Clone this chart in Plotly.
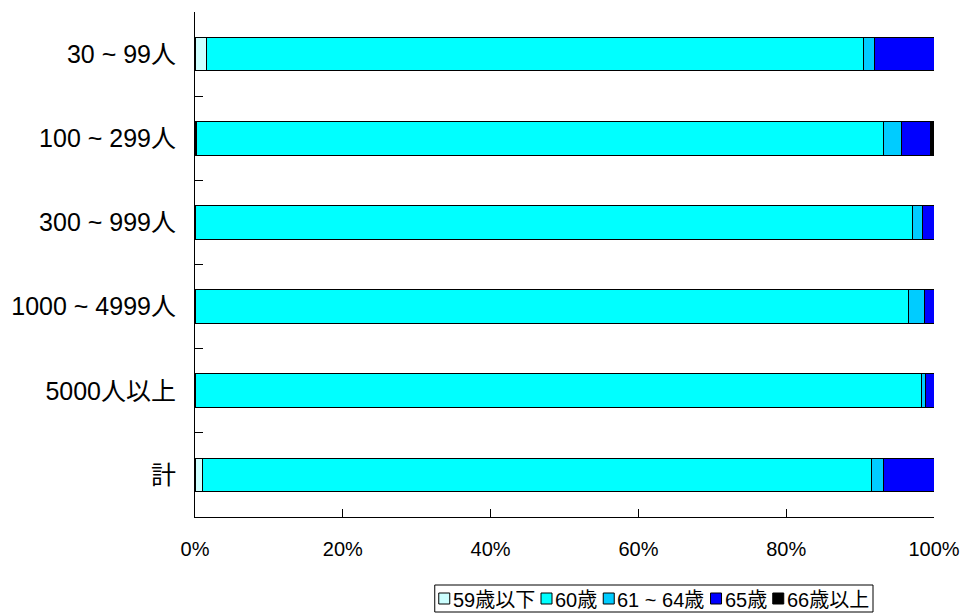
import plotly.graph_objects as go

# 企業規模別・定年年齢の分布（構成比 %）
categories = ["30 ~ 99人", "100 ~ 299人", "300 ~ 999人", "1000 ~ 4999人", "5000人以上", "計"]

series_names = ["59歳以下", "60歳", "61 ~ 64歳", "65歳", "66歳以上"]
age_59_under = [1.6, 0.2, 0.0, 0.0, 0.0, 1.0]
age_60 = [88.9, 93.0, 97.1, 96.5, 98.3, 90.5]
age_61_64 = [1.4, 2.4, 1.4, 2.2, 0.6, 1.6]
age_65 = [8.1, 3.9, 1.5, 1.3, 1.1, 6.9]
age_66_over = [0.0, 0.5, 0.0, 0.0, 0.0, 0.0]

series_values = [age_59_under, age_60, age_61_64, age_65, age_66_over]
series_colors = ["#CCFFFF", "#00FFFF", "#00CCFF", "#0000FF", "#000000"]

x_tick_values = [0, 20, 40, 60, 80, 100]
x_tick_labels = ["0%", "20%", "40%", "60%", "80%", "100%"]

FONT = "Liberation Sans, Arial, Noto Sans CJK JP, sans-serif"
FIG_W, FIG_H = 965, 614
M_L, M_R, M_T, M_B = 195, 31, 12, 97
PLOT_W = FIG_W - M_L - M_R
PLOT_H = FIG_H - M_T - M_B

fig = go.Figure()
for name, vals, color in zip(series_names, series_values, series_colors):
    fig.add_trace(go.Bar(
        y=categories,
        x=vals,
        name=name,
        orientation="h",
        width=0.4,
        marker=dict(color=color, line=dict(color="#000000", width=1)),
        showlegend=False,
    ))


# ---- legend box drawn below the plot (compact Excel-style layout) ----
def px_x(px):
    return (px - M_L) / PLOT_W


def px_y(py):
    return (FIG_H - M_B - py) / PLOT_H


def text_width(s, size):
    w = 0.0
    for ch in s:
        if ch.isdigit():
            w += 0.556
        elif ch == " ":
            w += 0.278
        elif ch == "~":
            w += 0.584
        elif ord(ch) > 0x2E80:
            w += 1.0
        else:
            w += 0.6
    return w * size


LEG_FONT = 20
SYM, SYM_GAP, ITEM_GAP, PAD = 11, 3, 6, 4
LEG_RIGHT, LEG_TOP, LEG_BOTTOM = 873, 585, 612
leg_mid = (LEG_TOP + LEG_BOTTOM) / 2
widths = [text_width(n, LEG_FONT) for n in series_names]
total = PAD * 2 + sum(SYM + SYM_GAP + w for w in widths) + ITEM_GAP * (len(widths) - 1)
leg_left = LEG_RIGHT - total

shapes = [dict(
    type="rect", xref="paper", yref="paper",
    x0=px_x(leg_left), x1=px_x(LEG_RIGHT), y0=px_y(LEG_BOTTOM), y1=px_y(LEG_TOP),
    line=dict(color="#000000", width=1), fillcolor="white", layer="above",
)]
annotations = []
cx = leg_left + PAD
for name, color, w in zip(series_names, series_colors, widths):
    shapes.append(dict(
        type="rect", xref="paper", yref="paper",
        x0=px_x(cx), x1=px_x(cx + SYM),
        y0=px_y(leg_mid + SYM / 2), y1=px_y(leg_mid - SYM / 2),
        line=dict(color="#000000", width=1), fillcolor=color, layer="above",
    ))
    annotations.append(dict(
        xref="paper", yref="paper", x=px_x(cx + SYM + SYM_GAP - 1), y=px_y(leg_mid + 1),
        xanchor="left", yanchor="middle", showarrow=False, text=name,
        font=dict(family=FONT, size=LEG_FONT, color="#000000"),
        borderpad=0,
    ))
    cx += SYM + SYM_GAP + w + ITEM_GAP

fig.update_layout(
    barmode="stack",
    width=FIG_W,
    height=FIG_H,
    margin=dict(l=M_L, r=M_R, t=M_T, b=M_B, autoexpand=False),
    paper_bgcolor="white",
    plot_bgcolor="white",
    font=dict(family=FONT, size=25, color="#000000"),
    showlegend=False,
    shapes=shapes,
    annotations=annotations,
    xaxis=dict(
        range=[0, 100],
        tickvals=x_tick_values,
        ticktext=x_tick_labels,
        ticks="inside",
        ticklen=8,
        tickcolor="#000000",
        showline=True,
        linecolor="#000000",
        linewidth=1,
        showgrid=False,
        zeroline=False,
        tickfont=dict(size=20),
        ticklabelstandoff=14,
    ),
    yaxis=dict(
        type="category",
        categoryorder="array",
        categoryarray=categories,
        autorange="reversed",
        tickson="boundaries",
        ticks="inside",
        ticklen=8,
        tickcolor="#000000",
        showline=True,
        linecolor="#000000",
        linewidth=1,
        showgrid=False,
        zeroline=False,
        tickfont=dict(size=25),
        ticklabelstandoff=13,
    ),
)

fig.write_html("out.html")
